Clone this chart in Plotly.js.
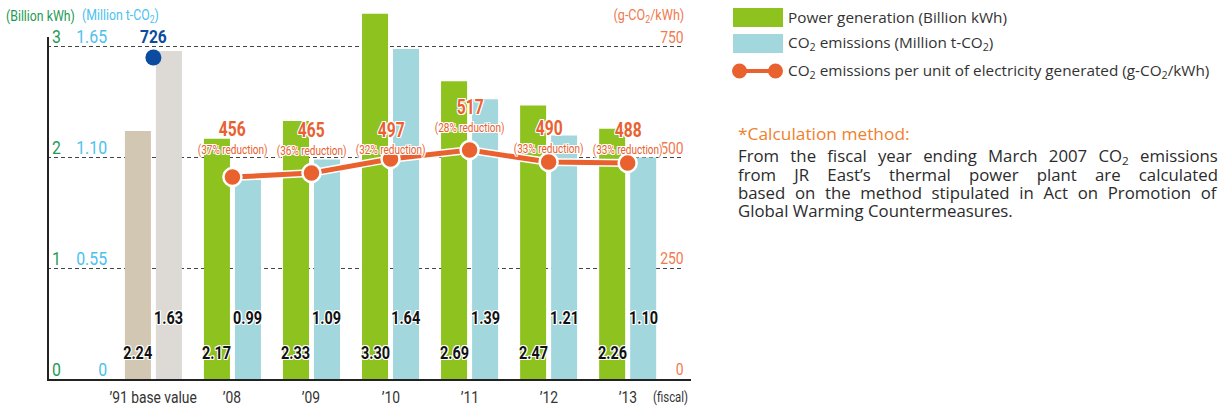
<!DOCTYPE html>
<html>
<head>
<meta charset="utf-8">
<script src="https://cdn.plot.ly/plotly-3.0.1.min.js"></script>
<style>html,body{margin:0;padding:0;background:#fff;}#chart{width:1221px;height:410px;}</style>
</head>
<body>
<div id="chart"></div>
<script>
// ---- data ----
const categories = ['\u201991 base value', '\u201908', '\u201909', '\u201910', '\u201911', '\u201912', '\u201913'];
const powerGeneration = [2.24, 2.17, 2.33, 3.30, 2.69, 2.47, 2.26];      // Billion kWh
const co2Emissions = [1.63, 0.99, 1.09, 1.64, 1.39, 1.21, 1.10];         // Million t-CO2
const intensityYears = ['\u201908', '\u201909', '\u201910', '\u201911', '\u201912', '\u201913'];
const intensity = [456, 465, 497, 517, 490, 488];                         // g-CO2/kWh
const reductionPct = ['37%', '36%', '32%', '28%', '33%', '33%'];
const baseYear = ['\u201991 base value'];
const baseIntensity = [726];
const powerTicks = [0, 1, 2, 3];
const co2TickLabels = ['0', '0.55', '1.10', '1.65'];
const intensityTicks = [0, 250, 500, 750];

// ---- layout helpers (pixel geometry) ----
const W = 1221, H = 410;
const M = {l: 47, r: W - 683, t: 10, b: 31};
const PW = W - M.l - M.r, PH = H - M.t - M.b;
const px = x => (x - M.l) / PW;
const py = y => (H - M.b - y) / PH;

const NARROW = 'Roboto, "Liberation Sans", sans-serif';
const SANS = '"Open Sans", "Noto Sans", sans-serif';
const HALO = '1px 1px 0 #fff, -1px -1px 0 #fff, 1px -1px 0 #fff, -1px 1px 0 #fff, 0 1px 0 #fff, 1px 0 0 #fff, 0 -1px 0 #fff, -1px 0 0 #fff';

const GREEN = '#8dc21f', BLUE = '#a3d7de', TAN = '#d2c7b2', GREY = '#ddd9d4';
const ORANGE = '#e9612f', NAVY = '#0b4ca0';
const TXT_GREEN = '#1f9a55', TXT_BLUE = '#4cc1ee', TXT_ORANGE = '#f07a50';

const slot = 79.04;
const barW = 26 / slot;
const traces = [
  {
    type: 'bar', x: categories, y: powerGeneration, yaxis: 'y',
    width: barW, offset: -(26 + 2.5) / slot,
    marker: {color: categories.map((c, i) => i === 0 ? TAN : GREEN)},
    hoverinfo: 'skip', showlegend: false
  },
  {
    type: 'bar', x: categories, y: co2Emissions, yaxis: 'y2',
    width: barW, offset: 2.5 / slot,
    marker: {color: categories.map((c, i) => i === 0 ? GREY : BLUE)},
    hoverinfo: 'skip', showlegend: false
  },
  {
    type: 'scatter', mode: 'lines', x: intensityYears, y: intensity, yaxis: 'y3',
    line: {color: '#ffffff', width: 8}, hoverinfo: 'skip', showlegend: false
  },
  {
    type: 'scatter', mode: 'lines+markers', x: intensityYears, y: intensity, yaxis: 'y3',
    line: {color: ORANGE, width: 5},
    marker: {size: 18, color: ORANGE, line: {color: '#fff', width: 2.5}},
    hoverinfo: 'skip', showlegend: false
  },
  {
    type: 'scatter', mode: 'markers', x: baseYear, y: baseIntensity, yaxis: 'y3',
    marker: {size: 16, color: NAVY}, hoverinfo: 'skip', showlegend: false
  }
];

const annotations = [];
const condense = [];   // horizontal squeeze per annotation (narrow font look)
const justify = [];    // target width for justified note lines
function addAnn(a, squeeze, just) {
  a.showarrow = false;
  annotations.push(a);
  condense.push(squeeze || 1);
  justify.push(just || 0);
}

// axis tick labels
powerTicks.forEach((t, i) => {
  addAnn({xref: 'paper', yref: 'y', x: px(50), y: t, yshift: 10, xanchor: 'left', yanchor: 'middle',
    text: String(t), font: {family: NARROW, size: 18, color: TXT_GREEN}}, 0.88);
  addAnn({xref: 'paper', yref: 'y', x: px(109), y: t, yshift: 10, xanchor: 'right', yanchor: 'middle',
    text: co2TickLabels[i], font: {family: NARROW, size: 18, color: TXT_BLUE}}, 0.88);
});
intensityTicks.forEach(t => {
  addAnn({xref: 'paper', yref: 'y3', x: px(686), y: t, yshift: 10, xanchor: 'right', yanchor: 'middle',
    text: String(t), font: {family: NARROW, size: 17, color: TXT_ORANGE}}, 0.82);
});
// unit titles
addAnn({xref: 'paper', yref: 'paper', x: px(4), y: py(16), xanchor: 'left', yanchor: 'middle',
  text: '(Billion kWh)', font: {family: NARROW, size: 15, color: TXT_GREEN}}, 0.82);
addAnn({xref: 'paper', yref: 'paper', x: px(80), y: py(16), xanchor: 'left', yanchor: 'middle',
  text: '(Million t-CO<sub>2</sub>)', font: {family: NARROW, size: 15, color: TXT_BLUE}}, 0.82);
addAnn({xref: 'paper', yref: 'paper', x: px(686), y: py(16), xanchor: 'right', yanchor: 'middle',
  text: '(g-CO<sub>2</sub>/kWh)', font: {family: NARROW, size: 15, color: TXT_ORANGE}}, 0.84);
// category labels along the base line
categories.forEach(c => {
  addAnn({xref: 'x', yref: 'paper', x: c, y: py(397), xanchor: 'center', yanchor: 'middle',
    text: c, font: {family: NARROW, size: 16.5, color: '#333'}}, 0.84);
});
addAnn({xref: 'paper', yref: 'paper', x: px(690), y: py(397), xanchor: 'right', yanchor: 'middle',
  text: '(fiscal)', font: {family: NARROW, size: 15, color: '#333'}}, 0.76);
// bar value labels
categories.forEach((c, i) => {
  addAnn({xref: 'x', yref: 'y', x: c, y: 0, xshift: -15.5, yshift: 26, xanchor: 'center', yanchor: 'middle',
    text: powerGeneration[i].toFixed(2),
    font: {family: NARROW, size: 18.5, weight: 'bold', color: '#111', shadow: HALO}}, 0.78);
  addAnn({xref: 'x', yref: 'y2', x: c, y: 0, xshift: 15.5, yshift: 61, xanchor: 'center', yanchor: 'middle',
    text: co2Emissions[i].toFixed(2),
    font: {family: NARROW, size: 18.5, weight: 'bold', color: '#111', shadow: HALO}}, 0.78);
});
// intensity labels
const liftNum = [48, 43, 29, 43, 34, 33];
intensityYears.forEach((c, i) => {
  addAnn({xref: 'x', yref: 'y3', x: c, y: intensity[i], yshift: liftNum[i], xanchor: 'center', yanchor: 'middle',
    text: String(intensity[i]),
    font: {family: NARROW, size: 20, weight: 'bold', color: ORANGE, shadow: HALO}}, 0.78);
  addAnn({xref: 'x', yref: 'y3', x: c, y: intensity[i], yshift: liftNum[i] - 20, xanchor: 'center', yanchor: 'middle',
    text: '(' + reductionPct[i] + ' reduction)',
    font: {family: NARROW, size: 12.5, color: ORANGE, shadow: HALO}}, 0.8);
});
addAnn({xref: 'x', yref: 'y3', x: baseYear[0], y: baseIntensity[0], yshift: 21, xanchor: 'center', yanchor: 'middle',
  text: String(baseIntensity[0]),
  font: {family: NARROW, size: 19, weight: 'bold', color: NAVY}}, 0.82);

// legend (drawn)
const legendItems = ['Power generation (Billion kWh)', 'CO<sub>2</sub> emissions (Million t-CO<sub>2</sub>)',
  'CO<sub>2</sub> emissions per unit of electricity generated (g-CO<sub>2</sub>/kWh)'];
const legendY = [17, 43, 71];
legendItems.forEach((t, i) => {
  addAnn({xref: 'paper', yref: 'paper', x: px(786), y: py(legendY[i]), xanchor: 'left', yanchor: 'middle',
    text: t, font: {family: SANS, size: 15.3, color: '#333'}});
});
// note
addAnn({xref: 'paper', yref: 'paper', x: px(736), y: py(133), xanchor: 'left', yanchor: 'middle',
  text: '*Calculation method:', font: {family: SANS, size: 16.5, color: '#f0802d'}}, 1.05);
const noteLines = ['From the fiscal year ending March 2007 CO<sub>2</sub> emissions',
  'from JR East\u2019s thermal power plant are calculated',
  'based on the method stipulated in Act on Promotion of',
  'Global Warming Countermeasures.'];
noteLines.forEach((t, i) => {
  addAnn({xref: 'paper', yref: 'paper', x: px(736), y: py(156 + i * 18.5), xanchor: 'left', yanchor: 'middle', align: 'left',
    text: t, font: {family: SANS, size: 16, color: '#2b2b2b'}}, 1.05, i < 3 ? 480 : 0);
});

const shapes = [
  // axes lines
  {type: 'line', xref: 'paper', yref: 'paper', x0: px(48), x1: px(48), y0: py(380), y1: py(37), line: {color: '#222', width: 2}},
  {type: 'line', xref: 'paper', yref: 'paper', x0: px(47), x1: px(691), y0: py(380), y1: py(380), line: {color: '#222', width: 2}},
  // legend swatches
  {type: 'rect', xref: 'paper', yref: 'paper', x0: px(733), x1: px(783), y0: py(8), y1: py(27), fillcolor: GREEN, line: {width: 0}},
  {type: 'rect', xref: 'paper', yref: 'paper', x0: px(733), x1: px(783), y0: py(34), y1: py(53), fillcolor: BLUE, line: {width: 0}},
  {type: 'line', xref: 'paper', yref: 'paper', x0: px(740), x1: px(775), y0: py(71), y1: py(71), line: {color: ORANGE, width: 4}},
  {type: 'circle', xref: 'paper', yref: 'paper', x0: px(732), x1: px(747), y0: py(63.5), y1: py(78.5), fillcolor: ORANGE, line: {width: 0}},
  {type: 'circle', xref: 'paper', yref: 'paper', x0: px(768), x1: px(783), y0: py(63.5), y1: py(78.5), fillcolor: ORANGE, line: {width: 0}}
];

const layout = {
  width: W, height: H, margin: M,
  paper_bgcolor: '#fff', plot_bgcolor: 'rgba(0,0,0,0)',
  showlegend: false,
  xaxis: {type: 'category', range: [-1.346, 6.70], showgrid: false, zeroline: false, showline: false,
    showticklabels: false, ticks: ''},
  yaxis: {range: [0, 3.3333], tickvals: [1, 2, 3], showticklabels: false, ticks: '',
    showgrid: true, gridcolor: '#444', gridwidth: 1, griddash: '4px,3px', zeroline: false, showline: false},
  yaxis2: {range: [0, 1.65 * 3.3333 / 3], overlaying: 'y', visible: false, showgrid: false},
  yaxis3: {range: [0, 750 * 3.3333 / 3], overlaying: 'y', side: 'right', visible: false, showgrid: false},
  annotations: annotations,
  shapes: shapes
};

Plotly.newPlot('chart', traces, layout, {staticPlot: true, displayModeBar: false}).then(gd => {
  gd.querySelectorAll('g.annotation').forEach(g => {
    const idx = +g.getAttribute('data-index');
    const t = g.querySelector('text.annotation-text');
    if (!t || isNaN(idx)) return;
    const s = condense[idx];
    if (s !== 1) {
      const a = annotations[idx].xanchor;
      t.style.transformBox = 'fill-box';
      t.style.transformOrigin = (a === 'left' ? 'left' : a === 'right' ? 'right' : 'center') + ' center';
      t.style.transform = 'scaleX(' + s + ')';
    }
    const j = justify[idx];
    if (j) {
      const w = t.getBBox().width;
      const n = (t.textContent.match(/ /g) || []).length;
      const target = j / s;
      if (n && target > w) t.style.wordSpacing = ((target - w) / n) + 'px';
    }
  });
});
</script>
</body>
</html>
